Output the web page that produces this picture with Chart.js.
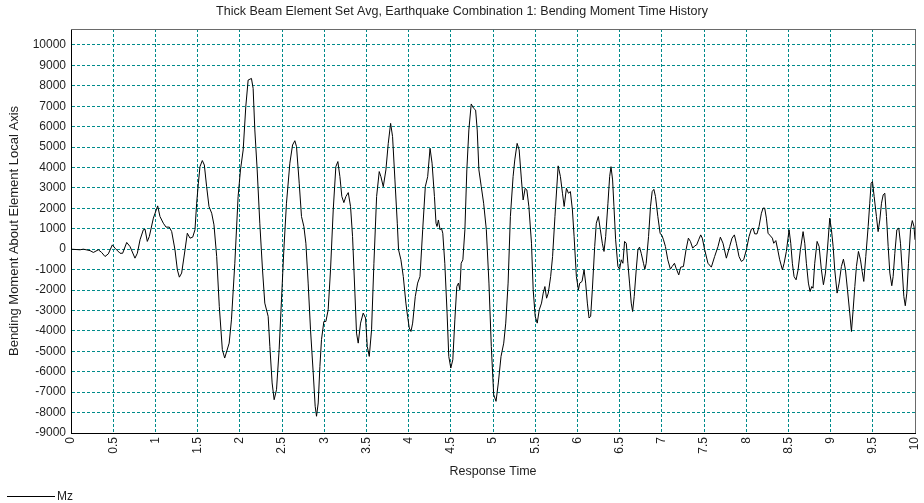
<!DOCTYPE html>
<html>
<head>
<meta charset="utf-8">
<script src="https://cdn.jsdelivr.net/npm/chart.js@4.4.1/dist/chart.umd.min.js"></script>
<style>
  html, body { margin: 0; padding: 0; background: #fff; }
  #wrap { width: 924px; height: 503px; }
</style>
</head>
<body>
<div id="wrap"><canvas id="moment-chart" width="924" height="503"></canvas></div>
<script>
const chartTitle = 'Thick Beam Element Set Avg, Earthquake Combination 1: Bending Moment Time History';
const xTitle = 'Response Time';
const yTitle = 'Bending Moment About Element Local Axis';
const seriesName = 'Mz';

// tick positions
const xTicks = [0, 0.5, 1, 1.5, 2, 2.5, 3, 3.5, 4, 4.5, 5, 5.5, 6, 6.5, 7, 7.5, 8, 8.5, 9, 9.5, 10];
const yTicks = [-9000, -8000, -7000, -6000, -5000, -4000, -3000, -2000, -1000, 0,
                1000, 2000, 3000, 4000, 5000, 6000, 7000, 8000, 9000, 10000];

// response time (s)
const times = [
  0, 0.107, 0.146, 0.225, 0.265, 0.324, 0.363, 0.403, 0.442, 0.49,
  0.521, 0.581, 0.612, 0.66, 0.699, 0.758, 0.786, 0.818, 0.857, 0.877,
  0.904, 0.928, 0.976, 1.027, 1.054, 1.094, 1.126, 1.165, 1.193, 1.232,
  1.26, 1.284, 1.311, 1.351, 1.378, 1.41, 1.442, 1.469, 1.489, 1.509,
  1.528, 1.556, 1.58, 1.607, 1.635, 1.667, 1.694, 1.726, 1.757, 1.793,
  1.821, 1.874, 1.901, 1.941, 1.98, 2.008, 2.04, 2.071, 2.099, 2.138,
  2.158, 2.178, 2.206, 2.237, 2.269, 2.296, 2.336, 2.356, 2.383, 2.407,
  2.435, 2.466, 2.494, 2.522, 2.553, 2.593, 2.625, 2.652, 2.672, 2.704,
  2.731, 2.759, 2.783, 2.81, 2.838, 2.87, 2.893, 2.909, 2.929, 2.949,
  2.968, 2.996, 3.02, 3.047, 3.075, 3.107, 3.138, 3.162, 3.186, 3.209,
  3.233, 3.257, 3.285, 3.312, 3.336, 3.364, 3.383, 3.403, 3.431, 3.462,
  3.49, 3.51, 3.534, 3.561, 3.589, 3.621, 3.652, 3.672, 3.7, 3.731,
  3.759, 3.787, 3.81, 3.838, 3.866, 3.881, 3.909, 3.937, 3.968, 3.988,
  4.008, 4.028, 4.048, 4.079, 4.107, 4.135, 4.167, 4.198, 4.226, 4.254,
  4.278, 4.306, 4.325, 4.337, 4.353, 4.373, 4.389, 4.405, 4.429, 4.456,
  4.476, 4.5, 4.524, 4.548, 4.571, 4.591, 4.607, 4.623, 4.643, 4.667,
  4.69, 4.714, 4.742, 4.77, 4.794, 4.813, 4.833, 4.861, 4.889, 4.921,
  4.952, 4.98, 5.008, 5.036, 5.063, 5.095, 5.127, 5.151, 5.179, 5.206,
  5.238, 5.258, 5.286, 5.31, 5.337, 5.357, 5.381, 5.401, 5.425, 5.456,
  5.476, 5.5, 5.524, 5.548, 5.575, 5.595, 5.615, 5.635, 5.655, 5.683,
  5.706, 5.734, 5.772, 5.799, 5.823, 5.843, 5.87, 5.894, 5.917, 5.941,
  5.961, 5.988, 6.012, 6.028, 6.055, 6.079, 6.098, 6.118, 6.138, 6.157,
  6.177, 6.205, 6.224, 6.248, 6.272, 6.295, 6.315, 6.335, 6.362, 6.382,
  6.398, 6.417, 6.433, 6.453, 6.48, 6.5, 6.52, 6.539, 6.559, 6.579,
  6.598, 6.618, 6.638, 6.654, 6.673, 6.697, 6.717, 6.736, 6.756, 6.783,
  6.799, 6.815, 6.843, 6.866, 6.886, 6.906, 6.925, 6.953, 6.98, 7.004,
  7.02, 7.043, 7.071, 7.102, 7.122, 7.15, 7.169, 7.201, 7.224, 7.256,
  7.287, 7.315, 7.339, 7.366, 7.39, 7.413, 7.437, 7.461, 7.48, 7.508,
  7.547, 7.587, 7.626, 7.666, 7.694, 7.725, 7.765, 7.804, 7.832, 7.86,
  7.883, 7.915, 7.943, 7.97, 8.002, 8.034, 8.061, 8.081, 8.101, 8.128,
  8.152, 8.18, 8.2, 8.219, 8.239, 8.259, 8.287, 8.31, 8.326, 8.351,
  8.37, 8.397, 8.429, 8.449, 8.476, 8.508, 8.528, 8.547, 8.567, 8.591,
  8.615, 8.642, 8.674, 8.694, 8.713, 8.737, 8.757, 8.777, 8.792, 8.812,
  8.84, 8.864, 8.891, 8.915, 8.939, 8.962, 8.99, 9.01, 9.03, 9.049,
  9.077, 9.101, 9.128, 9.152, 9.176, 9.2, 9.227, 9.247, 9.267, 9.287,
  9.306, 9.33, 9.354, 9.374, 9.393, 9.417, 9.445, 9.464, 9.48, 9.496,
  9.516, 9.543, 9.563, 9.583, 9.603, 9.623, 9.642, 9.662, 9.682, 9.702,
  9.725, 9.741, 9.761, 9.785, 9.808, 9.828, 9.848, 9.868, 9.885, 9.903,
  9.923, 9.947, 9.968, 9.988, 10
];

// bending moment Mz
const mz = [
  0, -30, 0, -70, -160, -30, -160, -360, -230, 210,
  50, -200, -200, 330, 130, -440, -200, 460, 950, 980,
  380, 620, 1520, 2120, 1600, 1270, 1080, 1080, 860, -30,
  -1010, -1370, -1170, -30, 780, 540, 590, 950, 2250, 3230,
  4040, 4340, 4120, 3060, 2090, 1760, 1190, -360, -2800, -4920,
  -5330, -4600, -3460, -690, 2580, 3880, 4860, 6980, 8280, 8360,
  7870, 5840, 3880, 1270, -1010, -2640, -3290, -4760, -6550, -7370,
  -6880, -4920, -2480, -30, 2250, 4210, 5100, 5310, 5020, 3230,
  1600, 1110, 290, -1660, -3950, -6060, -7690, -8180, -7530, -5740,
  -4430, -3540, -3540, -2970, -1010, 1920, 4040, 4290, 3550, 2580,
  2280, 2580, 2770, 2090, 620, -2150, -4110, -4600, -3620, -3130,
  -3370, -4760, -5250, -3950, -690, 2580, 3800, 3550, 3060, 3880,
  5180, 6160, 5510, 3390, 1270, -30, -520, -1340, -2640, -3290,
  -3860, -4030, -3620, -2320, -1660, -1340, 950, 3060, 3550, 4940,
  4210, 2580, 1270, 1110, 1430, 950, 1030, 780, -690, -3130,
  -5250, -5820, -5410, -3460, -1830, -1660, -1990, -690, -520, 950,
  3880, 5840, 7110, 6900, 6810, 5840, 3880, 3060, 2250, 950,
  -1660, -4760, -7120, -7450, -6550, -5250, -4600, -3620, -1660, 1600,
  3550, 4370, 5180, 4860, 3390, 2410, 2980, 2900, 2090, 290,
  -1990, -3290, -3620, -2970, -2640, -2150, -1830, -2400, -2150, -1340,
  -360, 1600, 4080, 3550, 2740, 2090, 2980, 2740, 2820, 1920,
  620, -1340, -1990, -1660, -1580, -1010, -1660, -2640, -3370, -3290,
  -1990, 130, 1270, 1600, 950, 290, -110, 620, 2250, 3550,
  4040, 3390, 2090, 460, -850, -980, -520, -690, 380, 290,
  -690, -1660, -2640, -3050, -2320, -1010, -30, 100, -200, -690,
  -980, -690, 620, 2090, 2820, 2930, 2580, 1600, 780, 650,
  460, 130, -520, -980, -850, -690, -930, -1260, -880, -850,
  -30, 540, 380, 50, 160, 210, 460, 700, 540, -30,
  -690, -880, -360, 130, 590, 290, -440, 130, 540, 700,
  290, -360, -600, -520, -30, 620, 980, 1030, 750, 750,
  1110, 1760, 2010, 2010, 1520, 780, 650, 540, 290, 420,
  50, -520, -1010, -690, -110, 950, 290, -690, -1340, -1500,
  -1010, -30, 860, 290, -690, -1660, -2070, -1830, -1910, -690,
  380, 130, -1010, -1740, -1170, -30, 1520, 950, 130, -1010,
  -2150, -1660, -850, -490, -1010, -1990, -3130, -4030, -2970, -1830,
  -850, -110, -520, -1090, -1580, -360, 1110, 2250, 3230, 3310,
  2580, 1600, 860, 1430, 2250, 2660, 2740, 1600, 130, -1170,
  -1790, -1340, -200, 950, 1030, 290, -1010, -2320, -2770, -2150,
  -690, 950, 1400, 1110, 460
];

const yMin = -9000, yMax = 10780;

const gridColor = 'rgb(0,139,139)';
const textColor = '#1e1e1e';
const fontFamily = 'Arial, "Liberation Sans", sans-serif';

// draws the top/right frame and the bottom-left legend line
const framePlugin = {
    id: 'frame',
    afterDraw(chart) {
        const {ctx, chartArea: a} = chart;
        ctx.save();
        ctx.strokeStyle = '#6a6a6a';
        ctx.lineWidth = 1;
        ctx.beginPath();
        ctx.moveTo(a.left, a.top + 0.5);
        ctx.lineTo(a.right + 0.5, a.top + 0.5);
        ctx.lineTo(a.right + 0.5, a.bottom);
        ctx.stroke();

        ctx.strokeStyle = '#000';
        ctx.beginPath();
        ctx.moveTo(7, 496.5);
        ctx.lineTo(55, 496.5);
        ctx.stroke();
        ctx.fillStyle = textColor;
        ctx.font = '12px ' + fontFamily;
        ctx.textBaseline = 'middle';
        ctx.fillText(seriesName, 57, 497);
        ctx.restore();
    }
};

const points = times.map((t, i) => ({x: t, y: mz[i]}));

new Chart(document.getElementById('moment-chart'), {
    type: 'line',
    data: {
        datasets: [{
            label: seriesName,
            data: points,
            borderColor: '#000',
            borderWidth: 1,
            pointRadius: 0,
            tension: 0,
            fill: false
        }]
    },
    options: {
        responsive: false,
        animation: false,
        layout: { padding: { left: 0, right: 0, top: 0, bottom: 18 } },
        plugins: {
            legend: { display: false },
            tooltip: { enabled: false },
            title: {
                display: true,
                text: chartTitle,
                color: textColor,
                font: { family: fontFamily, size: 12.5, weight: 'normal' },
                padding: { top: 4, bottom: 10 }
            }
        },
        scales: {
            x: {
                type: 'linear',
                min: xTicks[0],
                max: xTicks[xTicks.length - 1],
                afterBuildTicks(scale) { scale.ticks = xTicks.map(v => ({value: v})); },
                ticks: {
                    autoSkip: false,
                    minRotation: 90,
                    maxRotation: 90,
                    padding: 4,
                    color: textColor,
                    font: { family: fontFamily, size: 12 },
                    callback: (v) => String(v)
                },
                grid: { color: gridColor, drawTicks: false },
                border: { display: true, color: '#000', width: 1, dash: [3, 2] },
                title: {
                    display: true,
                    text: xTitle,
                    color: textColor,
                    font: { family: fontFamily, size: 12.5 },
                    padding: { top: 0, bottom: 6 }
                },
                afterFit(scale) {
                    scale.height = 52;
                    scale.paddingLeft = 0;
                    scale.paddingRight = 9;
                }
            },
            y: {
                type: 'linear',
                min: yMin,
                max: yMax,
                afterBuildTicks(scale) { scale.ticks = yTicks.map(v => ({value: v})); },
                ticks: {
                    autoSkip: false,
                    padding: 5,
                    color: textColor,
                    font: { family: fontFamily, size: 12 },
                    callback: (v) => String(v)
                },
                grid: { color: gridColor, drawTicks: false },
                border: { display: true, color: '#000', width: 1, dash: [3, 2] },
                title: {
                    display: true,
                    text: yTitle,
                    color: textColor,
                    font: { family: fontFamily, size: 13 },
                    padding: { top: 7, bottom: 0 }
                },
                afterFit(scale) { scale.width = 71; }
            }
        }
    },
    plugins: [framePlugin]
});
</script>
</body>
</html>
